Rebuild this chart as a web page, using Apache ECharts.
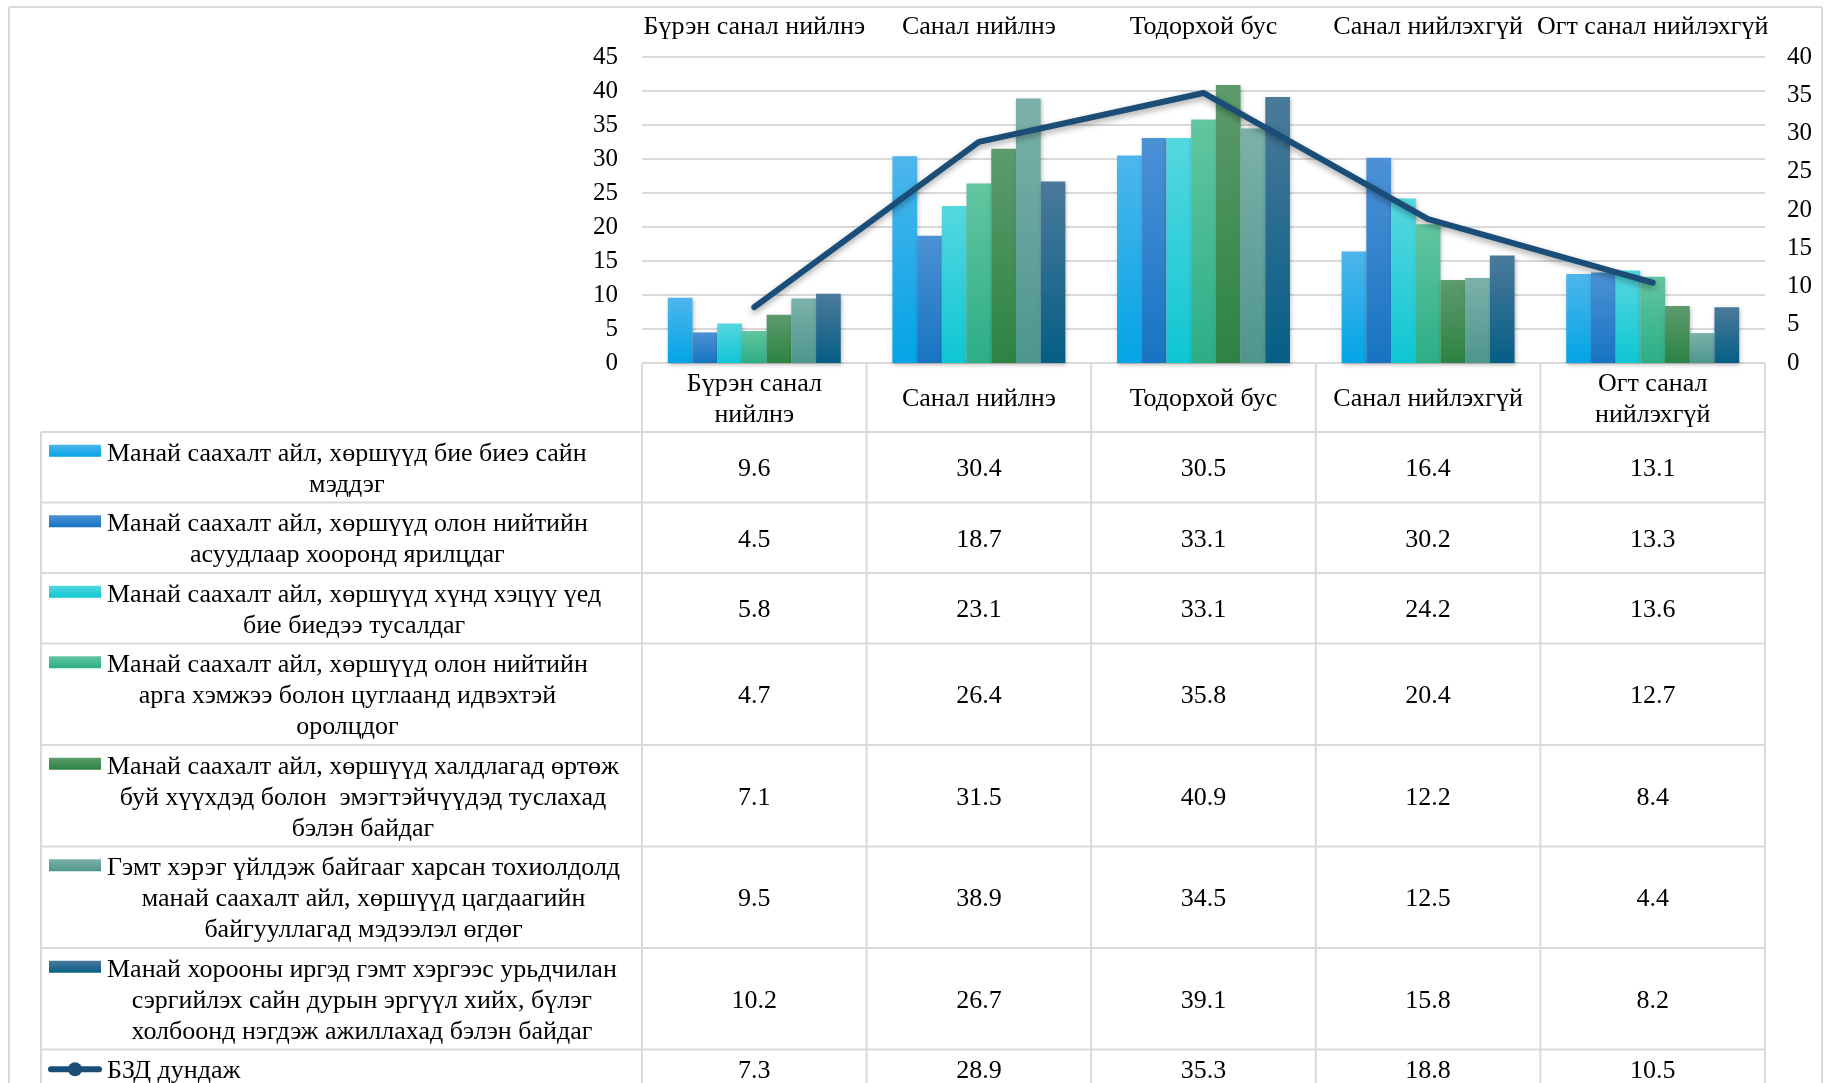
<!DOCTYPE html>
<html>
<head>
<meta charset="utf-8">
<script src="https://cdn.jsdelivr.net/npm/echarts@6/dist/echarts.min.js"></script>
<style>
html,body{margin:0;padding:0;background:#fff}
#chart{width:1829px;height:1083px}
</style>
</head>
<body>
<div id="chart"></div>
<script>
// categories on the top axis and in the table header
var categories = ['Бүрэн санал нийлнэ', 'Санал нийлнэ', 'Тодорхой бус', 'Санал нийлэхгүй', 'Огт санал нийлэхгүй'];
var headerLabels = ['Бүрэн санал\nнийлнэ', 'Санал нийлнэ', 'Тодорхой бус', 'Санал нийлэхгүй', 'Огт санал\nнийлэхгүй'];

// series names (line breaks as in the table)
var seriesNames = [
    'Манай саахалт айл, хөршүүд бие биеэ сайн\nмэддэг',
    'Манай саахалт айл, хөршүүд олон нийтийн\nасуудлаар хооронд ярилцдаг',
    'Манай саахалт айл, хөршүүд хүнд хэцүү үед\nбие биедээ тусалдаг',
    'Манай саахалт айл, хөршүүд олон нийтийн\nарга хэмжээ болон цуглаанд идвэхтэй\nоролцдог',
    'Манай саахалт айл, хөршүүд халдлагад өртөж\nбуй хүүхдэд болон  эмэгтэйчүүдэд туслахад\nбэлэн байдаг',
    'Гэмт хэрэг үйлдэж байгааг харсан тохиолдолд\nманай саахалт айл, хөршүүд цагдаагийн\nбайгууллагад мэдээлэл өгдөг',
    'Манай хорооны иргэд гэмт хэргээс урьдчилан\nсэргийлэх сайн дурын эргүүл хийх, бүлэг\nхолбоонд нэгдэж ажиллахад бэлэн байдаг'
];
var avgName = 'БЗД дундаж';

// values per series
var s1 = [9.6, 30.4, 30.5, 16.4, 13.1];
var s2 = [4.5, 18.7, 33.1, 30.2, 13.3];
var s3 = [5.8, 23.1, 33.1, 24.2, 13.6];
var s4 = [4.7, 26.4, 35.8, 20.4, 12.7];
var s5 = [7.1, 31.5, 40.9, 12.2, 8.4];
var s6 = [9.5, 38.9, 34.5, 12.5, 4.4];
var s7 = [10.2, 26.7, 39.1, 15.8, 8.2];
var avgValues = [7.3, 28.9, 35.3, 18.8, 10.5];
var barValues = [s1, s2, s3, s4, s5, s6, s7];

// bar colours: [top, bottom]
var colors = [
    ['#4db6ec', '#03a4e6'],
    ['#4d91d6', '#1774c2'],
    ['#55d8e0', '#0fc6d3'],
    ['#62c6a0', '#2bae87'],
    ['#5d9b6d', '#2c8343'],
    ['#7cb1ab', '#4e968d'],
    ['#4b7a9b', '#055e85']
];
var lineColor = '#1a4e78';

var FONT = '"Liberation Serif", "Times New Roman", serif';
var TXT = 26;     // table / category text size
var W = 1829, H = 1083;
var plotL = 642, plotR = 1765, plotT = 57, plotB = 363;
var legendL = 41, frameL = 9, frameR = 1822, frameT = 7;
var gridColor = '#d9d9d9';

var measure = document.createElement('canvas').getContext('2d');
measure.font = TXT + 'px ' + FONT;
function blockWidth(s) {
    return Math.max.apply(null, s.split('\n').map(function (t) { return measure.measureText(t).width; }));
}
function gradient(c) {
    return new echarts.graphic.LinearGradient(0, 0, 0, 1, [
        {offset: 0, color: c[0]}, {offset: 1, color: c[1]}
    ]);
}

// ---- table (drawn with graphic elements) ----
var colW = (plotR - plotL) / categories.length;
var graphic = [];
function hline(x1, x2, y) {
    graphic.push({type: 'line', silent: true, shape: {x1: x1, y1: y, x2: x2, y2: y}, style: {stroke: gridColor, lineWidth: 2}});
}
function vline(x, y1, y2) {
    graphic.push({type: 'line', silent: true, shape: {x1: x, y1: y1, x2: x, y2: y2}, style: {stroke: gridColor, lineWidth: 2}});
}
function text(s, x, y) {
    graphic.push({type: 'text', silent: true, x: x, y: y + 2, style: {
        text: s, fill: '#000', fontSize: TXT, fontFamily: FONT, lineHeight: 31,
        align: 'center', verticalAlign: 'middle'
    }});
}

// outer frame
hline(frameL, frameR, frameT);
vline(frameL, frameT, H);
vline(frameR, frameT, H);

// header
var headerB = plotB + 69;
hline(plotL, plotR, plotB);
headerLabels.forEach(function (h, i) {
    text(h, plotL + colW * (i + 0.5), (plotB + headerB) / 2);
});

var rowNames = seriesNames.concat([avgName]);
var rowValues = barValues.concat([avgValues]);
var y = headerB;
hline(legendL, plotR, y);
rowNames.forEach(function (name, r) {
    var lines = name.split('\n').length;
    var h = lines * 31 + 8.5;
    var cy = y + h / 2;
    var firstY = cy - (lines - 1) * 31 / 2;
    text(name, 107 + blockWidth(name) / 2, cy);
    if (r < barValues.length) {
        graphic.push({type: 'rect', silent: true, shape: {x: 49, y: firstY - 7, width: 52, height: 12},
            style: {fill: gradient(colors[r])}});
    } else {
        graphic.push({type: 'line', silent: true, shape: {x1: 51, y1: firstY, x2: 99, y2: firstY},
            style: {stroke: lineColor, lineWidth: 6, lineCap: 'round'}});
        graphic.push({type: 'circle', silent: true, shape: {cx: 75, cy: firstY, r: 7}, style: {fill: lineColor}});
    }
    rowValues[r].forEach(function (v, i) {
        text(v.toFixed(1), plotL + colW * (i + 0.5), cy);
    });
    y += h;
    hline(legendL, plotR, y);
});
vline(legendL, headerB, H);
for (var i = 0; i <= categories.length; i++) {
    vline(plotL + colW * i, plotB, H);
}

// ---- series ----
var series = barValues.map(function (vals, i) {
    return {
        name: seriesNames[i],
        type: 'bar',
        yAxisIndex: 0,
        barGap: '0%',
        barCategoryGap: '23%',
        data: vals,
        itemStyle: {
            color: gradient(colors[i]),
            shadowColor: 'rgba(0,0,0,0.25)', shadowBlur: 4, shadowOffsetX: 1, shadowOffsetY: 2
        }
    };
});
series.push({
    name: avgName,
    type: 'line',
    yAxisIndex: 1,
    data: avgValues,
    showSymbol: false,
    symbol: 'none',
    z: 10,
    lineStyle: {
        color: lineColor, width: 6, cap: 'round', join: 'round',
        shadowColor: 'rgba(0,0,0,0.35)', shadowBlur: 6, shadowOffsetY: 3
    }
});

var chart = echarts.init(document.getElementById('chart'));
chart.setOption({
    animation: false,
    backgroundColor: '#fff',
    grid: {left: plotL, right: W - plotR, top: plotT, bottom: H - plotB, containLabel: false},
    xAxis: {
        type: 'category',
        position: 'top',
        data: categories,
        axisLine: {show: false},
        axisTick: {show: false},
        axisLabel: {color: '#000', fontSize: TXT, fontFamily: FONT, margin: 17, interval: 0}
    },
    yAxis: [{
        type: 'value', min: 0, max: 45, interval: 5, position: 'left',
        axisLine: {show: false}, axisTick: {show: false},
        axisLabel: {color: '#000', fontSize: 25, fontFamily: FONT, margin: 24},
        splitLine: {lineStyle: {color: gridColor, width: 2}}
    }, {
        type: 'value', min: 0, max: 40, interval: 5, position: 'right',
        axisLine: {show: false}, axisTick: {show: false},
        axisLabel: {color: '#000', fontSize: 25, fontFamily: FONT, margin: 22},
        splitLine: {show: false}
    }],
    series: series,
    graphic: graphic
});
</script>
</body>
</html>
